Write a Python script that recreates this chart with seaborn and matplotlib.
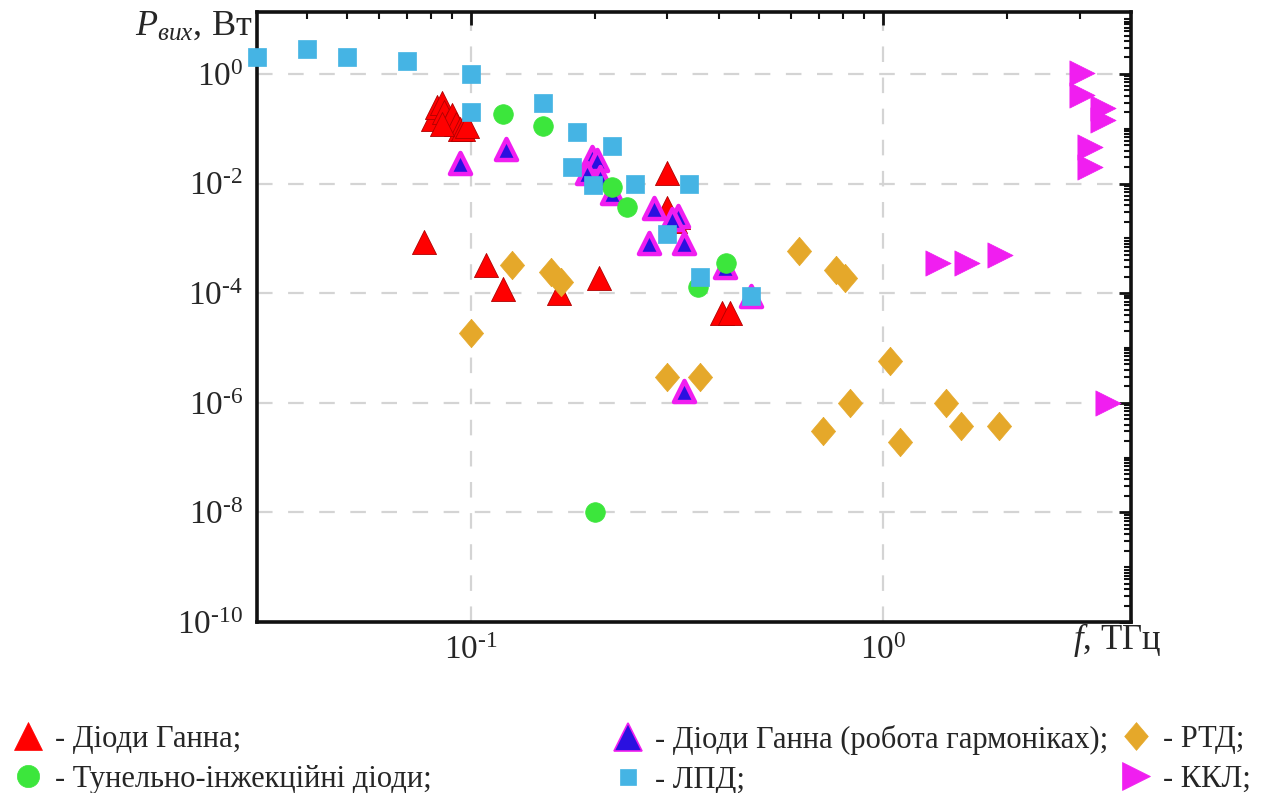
import numpy as np
import pandas as pd
import matplotlib
matplotlib.use("Agg")
import matplotlib.pyplot as plt
from matplotlib.lines import Line2D
from matplotlib.ticker import FixedLocator, NullFormatter
import seaborn as sns

# ---------------- data (f in THz, P in W) ----------------
gunn_f = [0.081, 0.083, 0.085, 0.086, 0.088, 0.090, 0.092, 0.094, 0.096, 0.098, 0.085,
          0.077, 0.109, 0.120, 0.164, 0.205, 0.300, 0.300, 0.313, 0.318, 0.406, 0.425]
gunn_p = [0.15, 0.25, 0.30, 0.20, 0.13, 0.18, 0.12, 0.10, 0.10, 0.11, 0.12,
          8.5e-4, 3.2e-4, 1.2e-4, 1.0e-4, 1.9e-4, 0.0155, 0.0036, 0.0021, 0.0025, 4.3e-5, 4.3e-5]

harm_f = [0.094, 0.122, 0.197, 0.202, 0.191, 0.206, 0.220, 0.278, 0.318, 0.308,
          0.270, 0.329, 0.414, 0.480, 0.329]
harm_p = [0.024, 0.043, 0.030, 0.027, 0.0155, 0.013, 0.0067, 0.0036, 0.0026, 0.0023,
          8.1e-4, 8.1e-4, 3.0e-4, 9.0e-5, 1.67e-6]

rtd_f = [0.126, 0.157, 0.166, 0.100, 0.300, 0.360, 0.625, 0.770, 0.810,
         0.715, 0.830, 1.040, 1.100, 1.420, 1.550, 1.910]
rtd_p = [3.2e-4, 2.4e-4, 1.6e-4, 1.9e-5, 2.9e-6, 2.9e-6, 5.8e-4, 2.6e-4, 1.9e-4,
         3.1e-7, 1.0e-6, 5.9e-6, 1.9e-7, 1.0e-6, 3.8e-7, 3.8e-7]

tunnel_f = [0.120, 0.150, 0.220, 0.240, 0.416, 0.356, 0.200]
tunnel_p = [0.185, 0.11, 0.0088, 0.0037, 3.5e-4, 1.3e-4, 1.0e-8]

lpd_f = [0.0303, 0.040, 0.050, 0.070, 0.100, 0.100, 0.150, 0.181, 0.176, 0.220,
         0.198, 0.250, 0.338, 0.300, 0.360, 0.480]
lpd_p = [2.0, 2.9, 2.0, 1.7, 1.0, 0.2, 0.3, 0.087, 0.020, 0.048,
         0.0095, 0.0098, 0.0098, 0.0012, 2.0e-4, 9.0e-5]

qcl_f = [3.04, 3.04, 3.42, 3.42, 3.18, 3.18, 1.36, 1.60, 1.92, 3.52]
qcl_p = [1.04, 0.41, 0.24, 0.144, 0.046, 0.020, 3.5e-4, 3.5e-4, 4.9e-4, 1.0e-6]

labels = ["- Діоди Ганна;", "- Тунельно-інжекційні діоди;",
          "- Діоди Ганна (робота гармоніках);", "- ЛПД;",
          "- РТД;", "- ККЛ;"]

# ---------------- style ----------------
sns.set_theme(style="white")
plt.rcParams['font.family'] = ['Liberation Serif', 'DejaVu Serif']
plt.rcParams['mathtext.fontset'] = 'custom'
plt.rcParams['mathtext.rm'] = 'Liberation Serif'
plt.rcParams['mathtext.it'] = 'Liberation Serif:italic'

RED = "#FF0000"
GREEN = "#3CE63C"
BLUE_SQ = "#45B4E4"
ORANGE = "#E5A82A"
MAGENTA = "#F01EF0"
HARM_FACE = "#2A10E0"

diamond = [(0, 1), (0.85, 0), (0, -1), (-0.85, 0), (0, 1)]

fig = plt.figure(figsize=(12.68, 7.93), dpi=100)
ax = fig.add_axes([257 / 1268, 1 - 622 / 793, (1131 - 257) / 1268, (622 - 12) / 793])
ax.set_xscale('log')
ax.set_yscale('log')

sns.scatterplot(x=gunn_f, y=gunn_p, marker='^', s=300, color=RED,
                edgecolor="#B00000", linewidth=0.6, ax=ax, zorder=3)
sns.scatterplot(x=harm_f, y=harm_p, marker='^', s=230, color=HARM_FACE,
                edgecolor=MAGENTA, linewidth=3.2, ax=ax, zorder=4)
sns.scatterplot(x=rtd_f, y=rtd_p, marker=diamond, s=420, color=ORANGE,
                edgecolor=ORANGE, linewidth=0.5, ax=ax, zorder=5)
sns.scatterplot(x=tunnel_f, y=tunnel_p, marker='o', s=200, color=GREEN,
                edgecolor=GREEN, linewidth=0.5, ax=ax, zorder=6)
sns.scatterplot(x=lpd_f, y=lpd_p, marker='s', s=170, color=BLUE_SQ,
                edgecolor=BLUE_SQ, linewidth=0.5, ax=ax, zorder=7, clip_on=False)
sns.scatterplot(x=qcl_f, y=qcl_p, marker='>', s=330, color=MAGENTA,
                edgecolor=MAGENTA, linewidth=0.5, ax=ax, zorder=8)

ax.set_xlim(0.0303, 4.0)
ax.set_ylim(1e-10, 13.5)

HY = "\u2010"  # short hyphen used in the exponent
ax.xaxis.set_major_locator(FixedLocator([0.1, 1.0]))
ax.set_xticklabels([r"$10^{" + HY + "1}$", r"$10^{0}$"])
xminor = [m * 10.0 ** k for k in (-2, -1, 0) for m in range(2, 10)]
ax.xaxis.set_minor_locator(FixedLocator(xminor))
ax.xaxis.set_minor_formatter(NullFormatter())

ymaj = [10.0 ** k for k in range(-10, 1, 2)]
ax.yaxis.set_major_locator(FixedLocator(ymaj))
ax.set_yticklabels([r"$10^{" + (HY + str(-k) if k < 0 else str(k)) + "}$"
                    for k in range(-10, 1, 2)])
yminor = [m * 10.0 ** k for k in range(-10, 2) for m in range(1, 10)
          if not (m == 1 and k % 2 == 0)]
ax.yaxis.set_minor_locator(FixedLocator(yminor))
ax.yaxis.set_minor_formatter(NullFormatter())

ax.tick_params(which='both', direction='in', top=True, right=True, color='#111111')
ax.tick_params(which='major', length=9, width=2.0, labelsize=24, pad=10)
ax.tick_params(which='minor', length=5, width=1.5)
for sp in ax.spines.values():
    sp.set_linewidth(2.6)
    sp.set_color('#111111')

ax.grid(True, which='major', color='#d4d4d4', linestyle=(0, (7, 7)), linewidth=1.6, zorder=0)
ax.set_axisbelow(True)
ax.set_xlabel("")
ax.set_ylabel("")

fig.text(252 / 1268, 1 - 26 / 793, r"$P_{вих}$, Вт", ha='right', va='center', fontsize=26)
fig.text(1073 / 1268, 1 - 640 / 793, r"$f$, ТГц", ha='left', va='center', fontsize=25)

# legend, three columns
def h(marker, face, edge, ms, mew=0.5):
    return Line2D([], [], linestyle='none', marker=marker, markersize=ms,
                  markerfacecolor=face, markeredgecolor=edge, markeredgewidth=mew)

handles = [h('^', RED, RED, 20), h('o', GREEN, GREEN, 16),
           h('^', HARM_FACE, MAGENTA, 20, 1.2), h('s', BLUE_SQ, BLUE_SQ, 12),
           h(diamond, ORANGE, ORANGE, 20), h('>', MAGENTA, MAGENTA, 20)]

cols_x = [8 / 1268, 608 / 1268, 1116 / 1268]
for i, cx in enumerate(cols_x):
    leg = fig.legend(handles[2 * i:2 * i + 2], labels[2 * i:2 * i + 2],
                     loc='upper left', bbox_to_anchor=(cx, 1 - 722 / 793),
                     frameon=False, fontsize=22, handlelength=1.1,
                     handletextpad=0.35, labelspacing=0.35, borderpad=0.1,
                     borderaxespad=0)

fig.savefig("out.png", dpi=100)
